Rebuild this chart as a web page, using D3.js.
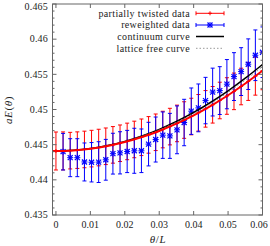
<!DOCTYPE html>
<html>
<head>
<meta charset="utf-8">
<script src="https://cdn.jsdelivr.net/npm/d3@7"></script>
<style>
  body { margin: 0; background: #fff; }
  text { font-family: "Liberation Serif", "DejaVu Serif", serif; fill: #222; }
</style>
</head>
<body>
<svg id="chart" width="270" height="246"></svg>
<script>
// theta/L values of the data points
const thetaL = [0, 0.00207, 0.00414, 0.00621, 0.00828, 0.01034, 0.01241, 0.01448, 0.01655, 0.01862,
    0.02069, 0.02276, 0.02483, 0.0269, 0.02897, 0.03103, 0.0331, 0.03517, 0.03724, 0.03931,
    0.04138, 0.04345, 0.04552, 0.04759, 0.04966, 0.05172, 0.05379, 0.05586, 0.05793, 0.06];

// partially twisted data (red)
const twistedE = [0.44410, 0.44411, 0.44415, 0.44422, 0.44432, 0.44444, 0.44459, 0.44477, 0.44497, 0.44520,
    0.44546, 0.44574, 0.44605, 0.44639, 0.44676, 0.44715, 0.44757, 0.44802, 0.44850, 0.44900,
    0.44953, 0.45009, 0.45067, 0.45128, 0.45192, 0.45258, 0.45327, 0.45399, 0.45474, 0.45551];
const twistedErr = [0.0027, 0.0027, 0.0026, 0.0026, 0.0026, 0.0026, 0.0026, 0.0026, 0.0026, 0.0026,
    0.0026, 0.0026, 0.0026, 0.0026, 0.0026, 0.0026, 0.0026, 0.0026, 0.0026, 0.0026,
    0.0026, 0.0026, 0.0026, 0.0026, 0.0026, 0.0026, 0.0026, 0.0027, 0.0027, 0.0027];

// reweighted data (blue), starts at the second theta/L value
const reweightedE = [0.44400, 0.44315, 0.44315, 0.44254, 0.44250, 0.44252, 0.44285, 0.44372, 0.44384,
    0.44403, 0.44413, 0.44413, 0.44508, 0.44573, 0.44635, 0.44625, 0.44711, 0.44815, 0.44976,
    0.45023, 0.45127, 0.45248, 0.45269, 0.45360, 0.45468, 0.45539, 0.45644, 0.45771, 0.45814];
const reweightedErr = [0.0026, 0.0027, 0.0027, 0.0027, 0.0028, 0.0029, 0.0029, 0.0029, 0.0030,
    0.0030, 0.0032, 0.0031, 0.0031, 0.0032, 0.0033, 0.0032, 0.0034, 0.0033, 0.0033,
    0.0034, 0.0033, 0.0034, 0.0034, 0.0035, 0.0034, 0.0034, 0.0036, 0.0036, 0.0036];

// curves
const curveX = [-0.001, 0, 0.005, 0.01, 0.015, 0.02, 0.025, 0.03, 0.035, 0.04, 0.045, 0.05, 0.055, 0.06];
const continuumE = [0.44410, 0.44410, 0.44419, 0.44444, 0.44487, 0.44547, 0.44624, 0.44718, 0.44829,
    0.44957, 0.45103, 0.45265, 0.45445, 0.45641];
const latticeE = [0.44410, 0.44410, 0.44418, 0.44443, 0.44485, 0.44543, 0.44618, 0.44710, 0.44818,
    0.44943, 0.45084, 0.45243, 0.45417, 0.45609];
const twistedFitE = [0.44410, 0.44410, 0.44418, 0.44442, 0.44481, 0.44537, 0.44608, 0.44695, 0.44798,
    0.44917, 0.45052, 0.45203, 0.45369, 0.45551];

const xTicks = [0, 0.01, 0.02, 0.03, 0.04, 0.05, 0.06];
const yTicks = [0.435, 0.44, 0.445, 0.45, 0.455, 0.46, 0.465];
const yMinorTicks = d3.range(0.435, 0.4651, 0.001);

const legendLabels = ['partially twisted data', 'reweighted data', 'continuum curve', 'lattice free curve'];

const RED = '#ff0000', BLUE = '#0000ff';

let svg = d3.select('#chart');
let pLeft = 52.5, pRight = 262.5, pTop = 4, pBottom = 215;

let x = d3.scaleLinear().domain([-0.001, 0.06]).range([pLeft, pRight]);
let y = d3.scaleLinear().domain([0.435, 0.465]).range([pBottom, pTop]);

svg.append('defs').append('clipPath').attr('id', 'clip')
    .append('rect')
    .attr('x', pLeft).attr('y', pTop)
    .attr('width', pRight - pLeft).attr('height', pBottom - pTop);

let plot = svg.append('g').attr('clip-path', 'url(#clip)');

function errorBars(g, xs, ys, errs, color) {
    let d = xs.map(function(v, i) { return [v, ys[i], errs[i]]; });
    let bars = g.append('g').selectAll('g').data(d).enter().append('g');
    bars.append('line')
        .attr('x1', function(p) { return x(p[0]); })
        .attr('x2', function(p) { return x(p[0]); })
        .attr('y1', function(p) { return y(p[1] - p[2]); })
        .attr('y2', function(p) { return y(p[1] + p[2]); })
        .attr('stroke', color).attr('stroke-width', 1);
    [-1, 1].forEach(function(s) {
        bars.append('line')
            .attr('x1', function(p) { return x(p[0]) - 2; })
            .attr('x2', function(p) { return x(p[0]) + 2; })
            .attr('y1', function(p) { return y(p[1] + s * p[2]); })
            .attr('y2', function(p) { return y(p[1] + s * p[2]); })
            .attr('stroke', color).attr('stroke-width', 1);
    });
    return bars;
}

function plusMark(g, cx, cy, r, color) {
    g.append('line').attr('x1', cx - r).attr('x2', cx + r).attr('y1', cy).attr('y2', cy)
        .attr('stroke', color).attr('stroke-width', 1);
    g.append('line').attr('x1', cx).attr('x2', cx).attr('y1', cy - r).attr('y2', cy + r)
        .attr('stroke', color).attr('stroke-width', 1);
}

function starMark(g, cx, cy, color) {
    plusMark(g, cx, cy, 3, color);
    let r = 2.5;
    g.append('line').attr('x1', cx - r).attr('x2', cx + r).attr('y1', cy - r).attr('y2', cy + r)
        .attr('stroke', color).attr('stroke-width', 1.2);
    g.append('line').attr('x1', cx - r).attr('x2', cx + r).attr('y1', cy + r).attr('y2', cy - r)
        .attr('stroke', color).attr('stroke-width', 1.2);
}

// red data
errorBars(plot, thetaL, twistedE, twistedErr, RED);
let redMarks = plot.append('g');
thetaL.forEach(function(v, i) { plusMark(redMarks, x(v), y(twistedE[i]), 2, RED); });

// blue data
let blueX = thetaL.slice(1);
errorBars(plot, blueX, reweightedE, reweightedErr, BLUE);
let blueMarks = plot.append('g');
blueX.forEach(function(v, i) { starMark(blueMarks, x(v), y(reweightedE[i]), BLUE); });

let line = d3.line()
    .x(function(d) { return x(d[0]); })
    .y(function(d) { return y(d[1]); })
    .curve(d3.curveMonotoneX);

plot.append('path')
    .attr('d', line(curveX.map(function(v, i) { return [v, continuumE[i]]; })))
    .attr('stroke', '#000').attr('stroke-width', 1.5).attr('fill', 'none');

plot.append('path')
    .attr('d', line(curveX.map(function(v, i) { return [v, latticeE[i]]; })))
    .attr('stroke', '#999').attr('stroke-width', 1).attr('stroke-dasharray', '1.5,2')
    .attr('fill', 'none');

plot.append('path')
    .attr('d', line(curveX.map(function(v, i) { return [v, twistedFitE[i]]; })))
    .attr('stroke', RED).attr('stroke-width', 2).attr('fill', 'none');

// frame and ticks
let axisColor = '#666';
let frame = svg.append('g');
frame.append('rect')
    .attr('x', pLeft).attr('y', pTop)
    .attr('width', pRight - pLeft).attr('height', pBottom - pTop)
    .attr('fill', 'none').attr('stroke', axisColor).attr('stroke-width', 1);

yMinorTicks.forEach(function(v) {
    let len = yTicks.some(function(t) { return Math.abs(t - v) < 1e-6; }) ? 4 : 2;
    frame.append('line').attr('x1', pLeft).attr('x2', pLeft + len)
        .attr('y1', y(v)).attr('y2', y(v)).attr('stroke', axisColor);
    frame.append('line').attr('x1', pRight).attr('x2', pRight - len)
        .attr('y1', y(v)).attr('y2', y(v)).attr('stroke', axisColor);
});

xTicks.forEach(function(v) {
    frame.append('line').attr('x1', x(v)).attr('x2', x(v))
        .attr('y1', pBottom).attr('y2', pBottom - 4).attr('stroke', axisColor);
    frame.append('line').attr('x1', x(v)).attr('x2', x(v))
        .attr('y1', pTop).attr('y2', pTop + 4).attr('stroke', axisColor);
});

svg.append('g').selectAll('text').data(yTicks).enter().append('text')
    .attr('x', 48).attr('y', function(d) { return Math.max(y(d), 7); })
    .attr('dy', '0.33em')
    .attr('text-anchor', 'end')
    .attr('font-size', 10)
    .attr('letter-spacing', 0.2)
    .text(function(d) { return String(+d.toFixed(3)); });

svg.append('g').selectAll('text').data(xTicks).enter().append('text')
    .attr('x', function(d) { return Math.min(x(d), 259); }).attr('y', 225)
    .attr('dy', '0.33em')
    .attr('text-anchor', 'middle')
    .attr('font-size', 10)
    .text(function(d) { return String(+d.toFixed(2)); });

// axis labels
let xl = svg.append('text')
    .attr('x', 158).attr('y', 239).attr('dy', '0.33em')
    .attr('text-anchor', 'middle').attr('font-size', 11)
    .attr('letter-spacing', 0.6);
xl.append('tspan').attr('font-style', 'italic').text('θ');
xl.append('tspan').text('/');
xl.append('tspan').attr('font-style', 'italic').text('L');

let yl = svg.append('text')
    .attr('transform', 'translate(8,110) rotate(-90)')
    .attr('dy', '0.33em')
    .attr('text-anchor', 'middle').attr('font-size', 11)
    .attr('letter-spacing', 0.6);
yl.append('tspan').attr('font-style', 'italic').text('aE');
yl.append('tspan').text('(');
yl.append('tspan').attr('font-style', 'italic').text('θ');
yl.append('tspan').text(')');

// legend
let legendY = [13.3, 25, 36.5, 48.3];
let legend = svg.append('g');
legendLabels.forEach(function(label, i) {
    legend.append('text')
        .attr('x', 190).attr('y', legendY[i]).attr('dy', '0.33em')
        .attr('text-anchor', 'end').attr('font-size', 10)
        .attr('letter-spacing', 0.35)
        .text(label);
});
let lx1 = 196, lx2 = 224, lmid = 210;
[[RED, 0], [BLUE, 1]].forEach(function(c) {
    let ly = legendY[c[1]];
    legend.append('line').attr('x1', lx1).attr('x2', lx2).attr('y1', ly).attr('y2', ly)
        .attr('stroke', c[0]);
    [lx1, lx2].forEach(function(ex) {
        legend.append('line').attr('x1', ex).attr('x2', ex).attr('y1', ly - 2).attr('y2', ly + 2)
            .attr('stroke', c[0]);
    });
});
plusMark(legend, lmid, legendY[0], 2, RED);
starMark(legend, lmid, legendY[1], BLUE);
legend.append('line').attr('x1', lx1).attr('x2', lx2)
    .attr('y1', legendY[2]).attr('y2', legendY[2])
    .attr('stroke', '#000').attr('stroke-width', 1.5);
legend.append('line').attr('x1', lx1).attr('x2', lx2)
    .attr('y1', legendY[3]).attr('y2', legendY[3])
    .attr('stroke', '#999').attr('stroke-dasharray', '1.5,2');
</script>
</body>
</html>
